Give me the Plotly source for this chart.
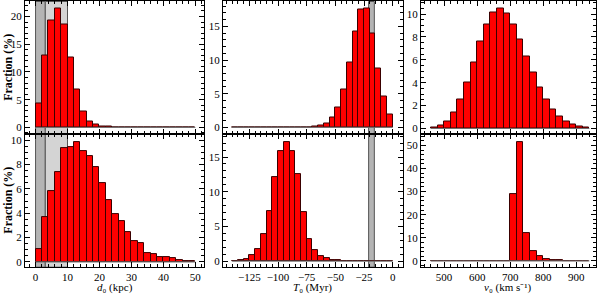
import plotly.graph_objects as go

# ---------------- data ----------------
# d0 (kpc) histograms, bin width 2 kpc starting at 0
d0_bin_start = 0
d0_bin_width = 2
d0_top = [4.25, 12.9, 19.3, 21.4, 18.5, 12.6, 6.75, 2.95, 1.15, 0.47, 0.22, 0.08, 0.03,
          0, 0, 0, 0, 0, 0, 0, 0, 0, 0, 0, 0]
d0_bottom = [1.03, 3.67, 5.84, 7.39, 9.37, 9.46, 9.84, 9.08, 8.7, 7.83, 6.47, 5.1, 3.94,
             3.32, 2.42, 1.74, 1.52, 0.73, 0.68, 0.43, 0.38, 0.3, 0.16, 0.1, 0.1]

# T0 (Myr) histograms, bin width 5 Myr starting at -140
T0_bin_start = -140
T0_bin_width = 5
T0_top = [0, 0, 0, 0, 0, 0, 0, 0, 0, 0, 0, 0, 0, 0, 0.1, 0.25, 0.64, 1.47, 3.0, 5.7,
          9.7, 14.2, 17.5, 17.7, 13.97, 8.8, 4.56, 1.9]
T0_bottom = [0.05, 0.12, 0.3, 0.86, 1.72, 3.87, 7.26, 12.1, 15.8, 17.2, 15.8, 12.5, 7.1,
             3.15, 1.58, 0.76, 0.38, 0.2, 0.1, 0, 0, 0, 0, 0, 0, 0, 0, 0]

# v0 (km/s) histograms, bin width 20 km/s starting at 460
v0_bin_start = 460
v0_bin_width = 20
v0_top = [0.12, 0.26, 0.63, 1.38, 2.5, 4.06, 5.79, 7.58, 9.08, 10.1, 10.46, 10.06, 9.08,
          7.78, 6.25, 4.87, 3.54, 2.5, 1.67, 1.07, 0.63, 0.37, 0.2, 0.12]
v0_bottom = [0, 0, 0, 0, 0, 0, 0, 0, 0, 0, 0, 0, 28.9, 51.6, 11.9, 4.3, 2.0, 0.86, 0.4,
             0.2, 0.1, 0.05, 0, 0]

# shaded constraint regions
d0_dark_band = [0, 3]
d0_light_band = [3, 10]
T0_band = [-21, -16]

y_title = "Fraction (%)"
x_titles = ["<i>d</i>₀ (kpc)", "<i>T</i>₀ (Myr)", "<i>v</i>₀ (km s⁻¹)"]

# ---------------- figure ----------------
FONT = "Liberation Serif"
fig = go.Figure()

xdom = [[25 / 600, 204 / 600], [223 / 600, 403 / 600], [421 / 600, 596 / 600]]
ydom = [[(294 - 134) / 294, 1 - 0.5 / 294], [(294 - 268) / 294, (294 - 134) / 294]]

panels = [
    (0, 0, d0_top, d0_bin_start, d0_bin_width),
    (0, 1, T0_top, T0_bin_start, T0_bin_width),
    (0, 2, v0_top, v0_bin_start, v0_bin_width),
    (1, 0, d0_bottom, d0_bin_start, d0_bin_width),
    (1, 1, T0_bottom, T0_bin_start, T0_bin_width),
    (1, 2, v0_bottom, v0_bin_start, v0_bin_width),
]

xranges = [[-3.3, 52.7], [-148, 9], [430, 960]]
yranges = {(0, 0): [-1.2, 22.7], (0, 1): [-1.0, 18.7], (0, 2): [-0.49, 11.1],
           (1, 0): [-0.43, 10.5], (1, 1): [-0.86, 18.3], (1, 2): [-2.7, 54.9]}
xticks = [dict(dtick=10, tick0=0, minor=dict(dtick=2)),
          dict(dtick=25, tick0=0, minor=dict(dtick=5)),
          dict(dtick=100, tick0=0, minor=dict(dtick=20))]
yticks = {(0, 0): dict(dtick=5, minor=dict(dtick=1)),
          (0, 1): dict(dtick=5, minor=dict(dtick=1)),
          (0, 2): dict(dtick=2, minor=dict(dtick=0.5)),
          (1, 0): dict(dtick=2, minor=dict(dtick=0.5)),
          (1, 1): dict(dtick=5, minor=dict(dtick=1)),
          (1, 2): dict(dtick=10, minor=dict(dtick=2))}

shapes = []
annotations = []
for i, (r, c, vals, start, w) in enumerate(panels):
    idx = i + 1
    xa = "x" if idx == 1 else f"x{idx}"
    ya = "y" if idx == 1 else f"y{idx}"
    n = len(vals)
    centers = [start + w * (k + 0.5) for k in range(n)]
    fig.add_trace(go.Scatter(x=[start, start + w * n], y=[0, 0], mode="lines",
                             line=dict(color="#707070", width=1), xaxis=xa, yaxis=ya,
                             showlegend=False, hoverinfo="skip"))
    fig.add_trace(go.Bar(x=centers, y=vals, width=w, xaxis=xa, yaxis=ya,
                         marker=dict(color="#ff0000", line=dict(color="#3a0000", width=1)),
                         showlegend=False))
    xkey = "xaxis" if idx == 1 else f"xaxis{idx}"
    ykey = "yaxis" if idx == 1 else f"yaxis{idx}"
    common = dict(showline=True, linecolor="black", linewidth=1, mirror="allticks",
                  ticks="inside", ticklen=5, tickcolor="black", showgrid=False,
                  zeroline=False, tickfont=dict(family=FONT, size=11, color="black"))
    xminor = dict(ticks="inside", ticklen=3, tickcolor="black", showgrid=False,
                  **xticks[c]["minor"])
    fig.layout[xkey] = dict(domain=xdom[c], anchor=ya, range=xranges[c],
                            dtick=xticks[c]["dtick"], tick0=xticks[c]["tick0"],
                            minor=xminor, showticklabels=(r == 1), **common)
    yminor = dict(ticks="inside", ticklen=3, tickcolor="black", showgrid=False,
                  **yticks[(r, c)]["minor"])
    fig.layout[ykey] = dict(domain=ydom[r], anchor=xa, range=yranges[(r, c)],
                            dtick=yticks[(r, c)]["dtick"], tick0=0, minor=yminor, **common)
    if r == 1:
        annotations.append(dict(text=x_titles[c], xref="paper", yref="paper",
                                x=sum(xdom[c]) / 2, y=(294 - 288.5) / 294,
                                xanchor="center", yanchor="middle", showarrow=False,
                                font=dict(family=FONT, size=11, color="black")))
    if c == 0:
        annotations.append(dict(text="<b>" + y_title + "</b>", xref="paper", yref="paper",
                                x=8 / 600, y=sum(ydom[r]) / 2, textangle=-90,
                                xanchor="center", yanchor="middle", showarrow=False,
                                font=dict(family=FONT, size=12, color="black")))
    if c == 0:
        shapes.append(dict(type="rect", xref=xa, yref=f"{ya} domain", x0=d0_light_band[0],
                           x1=d0_light_band[1], y0=0, y1=1, fillcolor="#d4d4d4",
                           line=dict(color="#555555", width=1), layer="below"))
        shapes.append(dict(type="rect", xref=xa, yref=f"{ya} domain", x0=d0_dark_band[0],
                           x1=d0_dark_band[1], y0=0, y1=1, fillcolor="#b4b4b4",
                           line=dict(color="#555555", width=1), layer="below"))
    if c == 1:
        shapes.append(dict(type="rect", xref=xa, yref=f"{ya} domain", x0=T0_band[0],
                           x1=T0_band[1], y0=0, y1=1, fillcolor="#b4b4b4",
                           line=dict(color="#555555", width=1), layer="below"))

fig.update_layout(width=600, height=294, margin=dict(l=0, r=0, t=0, b=0),
                  plot_bgcolor="white", paper_bgcolor="white", bargap=0,
                  shapes=shapes, annotations=annotations,
                  font=dict(family=FONT, color="black"))

fig.write_html("out.html", config={"displayModeBar": False},
               post_script="document.body.style.margin='0';document.body.style.padding='0';")
